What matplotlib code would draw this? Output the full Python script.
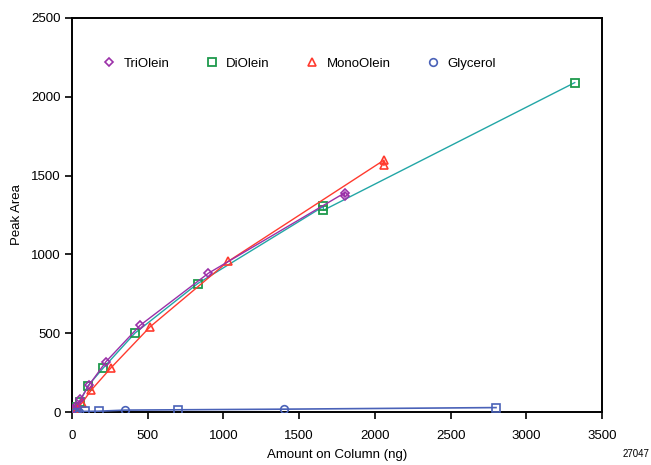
import matplotlib
matplotlib.use("Agg")
import matplotlib.pyplot as plt

plt.rcParams['font.family'] = ['Liberation Sans', 'DejaVu Sans']

tri_x = [14, 28, 56, 112, 225, 450, 900, 1800, 1800]
tri_y = [20, 40, 80, 170, 320, 550, 880, 1390, 1372]

di_x = [13, 26, 52, 104, 207, 415, 830, 1660, 1660, 3320]
di_y = [15, 30, 65, 165, 280, 500, 815, 1304, 1280, 2090]

mono_x = [16, 32, 64, 128, 257, 515, 1030, 2060, 2060]
mono_y = [8, 25, 55, 140, 280, 540, 955, 1598, 1565]

gly_x = [22, 44, 88, 175, 350, 700, 1400, 2800]
gly_y = [2, 3, 4, 5, 12, 14, 18, 28]
gly_sq = [False, False, True, True, False, True, False, True]

x_ticks = [0, 500, 1000, 1500, 2000, 2500, 3000, 3500]
y_ticks = [0, 500, 1000, 1500, 2000, 2500]

c_tri = '#9b30a8'
c_di_m = '#1e9a4c'
c_di_l = '#22a6a6'
c_mono = '#ff3a2e'
c_gly = '#4a62b8'

fig = plt.figure(figsize=(6.51, 4.65), dpi=100)
ax = fig.add_axes([72/651, 53/465, 530/651, 394/465])

ms = 5.5
ax.plot(tri_x, tri_y, color=c_tri, lw=1.0, marker='D', ms=ms-1, mfc='none',
        mec=c_tri, mew=1.2, label='TriOlein', zorder=4)
ax.plot(di_x, di_y, color=c_di_l, lw=1.0, marker='s', ms=ms, mfc='none',
        mec=c_di_m, mew=1.3, label='DiOlein', zorder=3)
ax.plot(mono_x, mono_y, color=c_mono, lw=1.0, marker='^', ms=ms+0.5, mfc='none',
        mec=c_mono, mew=1.2, label='MonoOlein', zorder=3)
ax.plot(gly_x, gly_y, color=c_gly, lw=1.2, label='_nolegend_', zorder=3)
ax.plot([x for x, s in zip(gly_x, gly_sq) if not s],
        [y for y, s in zip(gly_y, gly_sq) if not s],
        ls='none', marker='o', ms=ms, mfc='none', mec=c_gly, mew=1.2, zorder=4)
ax.plot([x for x, s in zip(gly_x, gly_sq) if s],
        [y for y, s in zip(gly_y, gly_sq) if s],
        ls='none', marker='s', ms=ms, mfc='none', mec=c_gly, mew=1.2, zorder=4)
ax.plot([], [], color=c_gly, ls='none', marker='o', ms=ms, mfc='none',
        mec=c_gly, mew=1.2, label='Glycerol')

ax.set_xlim(0, 3500)
ax.set_ylim(0, 2500)
ax.set_xticks(x_ticks)
ax.set_yticks(y_ticks)
ax.tick_params(axis='x', direction='out', length=5, width=1.2, labelsize=9.5, pad=8)
ax.tick_params(axis='y', direction='out', length=5, width=1.2, labelsize=9.5, pad=3)
for s in ax.spines.values():
    s.set_linewidth(1.4)

ax.set_xlabel('Amount on Column (ng)', fontsize=9.5, labelpad=5)
ax.set_ylabel('Peak Area', fontsize=9.5, labelpad=6)

h, l = ax.get_legend_handles_labels()
order = ['TriOlein', 'DiOlein', 'MonoOlein', 'Glycerol']
hs = [h[l.index(o)] for o in order]
leg = ax.legend(hs, order, loc='upper left', bbox_to_anchor=(0.035, 0.93), ncol=4,
                frameon=False, fontsize=9.5, handlelength=1.0, columnspacing=2.7,
                handletextpad=0.6)
for lh in leg.legend_handles:
    lh.set_linestyle('none')

fig.text(0.998, 0.012, '27047', fontsize=7, ha='right', va='bottom')

fig.savefig('out.png', dpi=100)
